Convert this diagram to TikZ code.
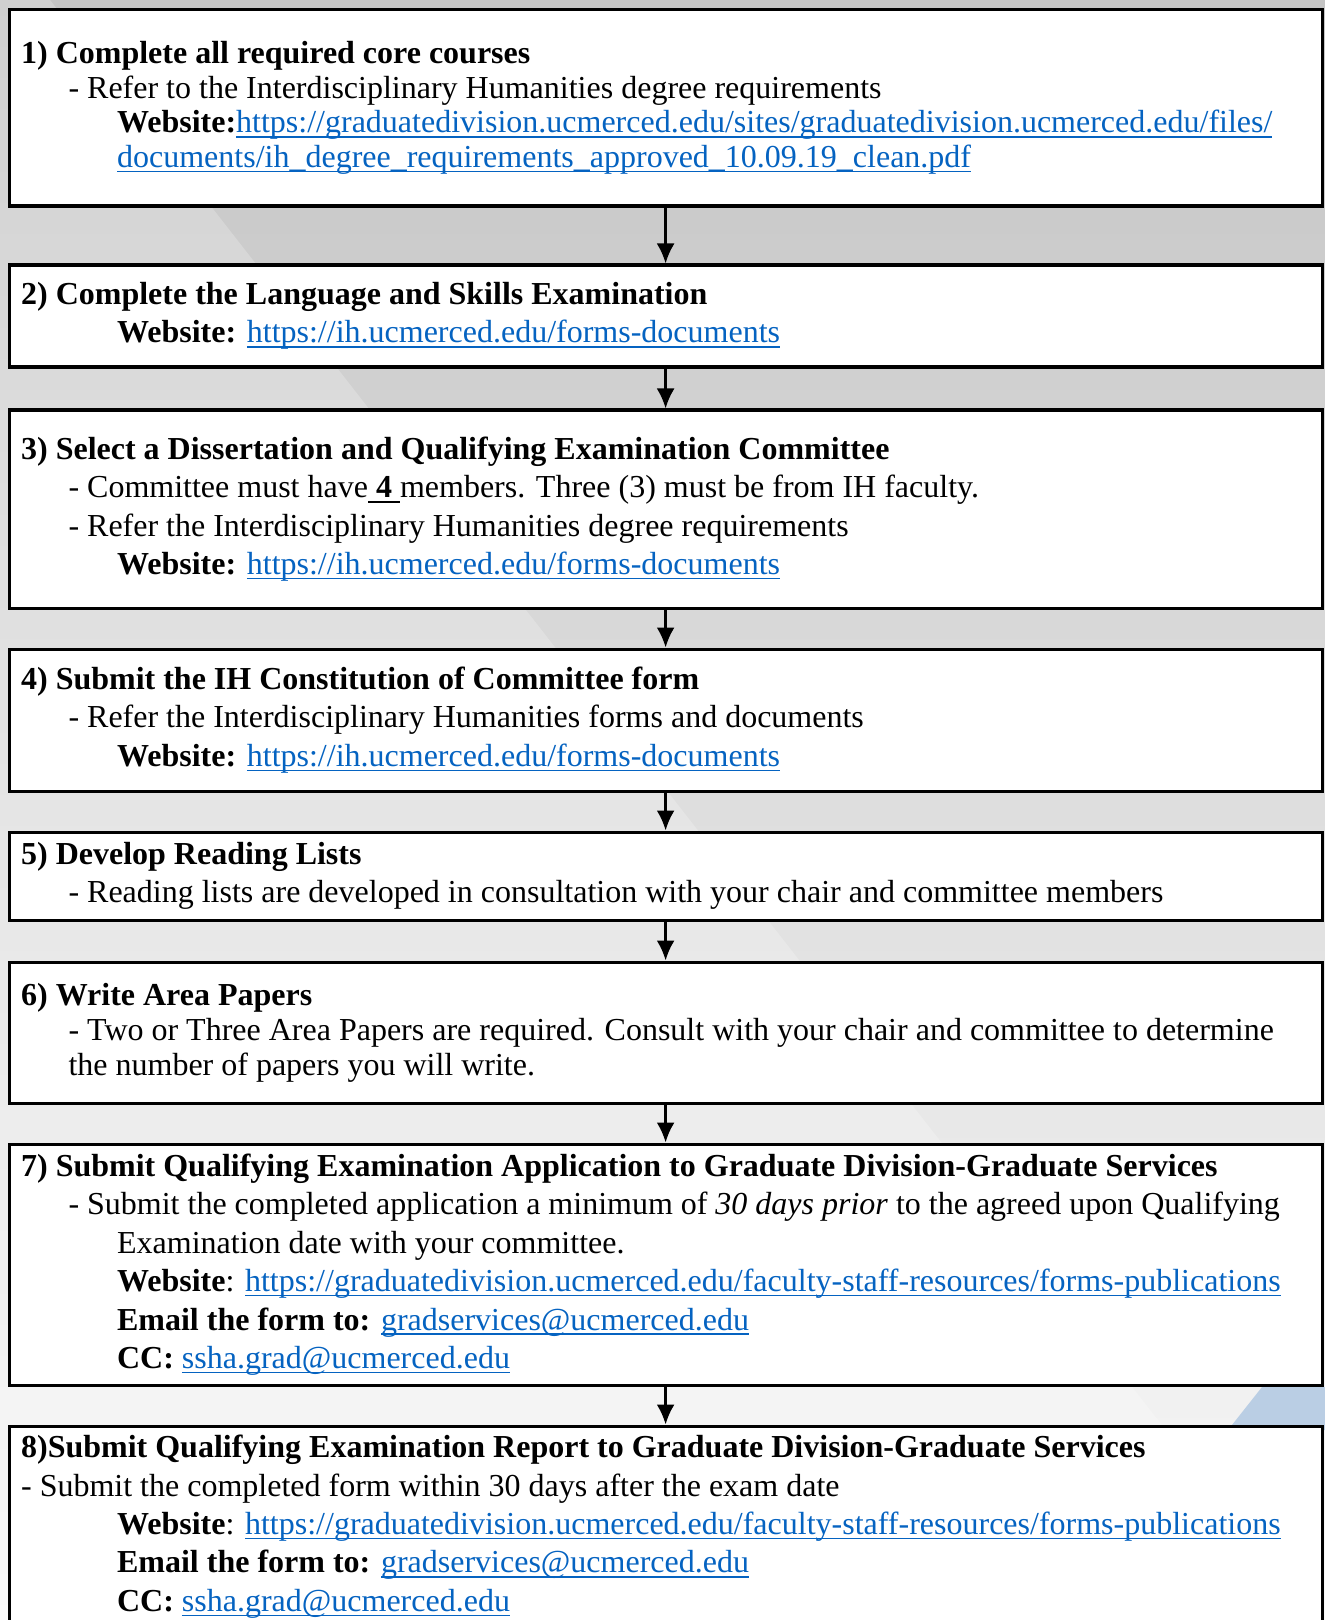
\documentclass[tikz,border=0pt]{standalone}
\usepackage{fontspec}
\setmainfont{Liberation Serif}
\usetikzlibrary{arrows.meta,positioning}
\definecolor{linkblue}{HTML}{0563C1}
\definecolor{bgtop}{HTML}{C4C4C4}
\definecolor{bgbottom}{HTML}{F8F8F8}
\definecolor{cornerblue}{RGB}{186,206,228}
\newcommand{\weblink}[1]{{\color{linkblue}\setbox0\hbox{#1}\rlap{\rule[-2.4pt]{\wd0}{0.7pt}}\box0}}
\newcommand{\ulinebox}[1]{{\setbox0\hbox{#1}\rlap{\rule[-2.4pt]{\wd0}{0.7pt}}\box0}}
\newcommand{\stepfont}{\fontsize{16pt}{19.2pt}\selectfont}
\newcommand{\stepfonttight}{\fontsize{16pt}{17.4pt}\selectfont}
\newcommand{\dashind}{\hspace*{23.7pt}}
\newcommand{\webind}{\hspace*{48pt}}

\begin{document}
\begin{tikzpicture}[x=0.5pt, y=-0.5pt, >={Latex[length=10pt,width=9pt]},
    stepbox/.style={draw, line width=1.6pt, fill=white, anchor=north west, minimum width=656.5pt, inner sep=0pt},
    steptext/.style={anchor=west, align=left, inner sep=0pt, font=\stepfont},
    tight/.style={font=\stepfonttight}]
    \useasboundingbox (0,0) rectangle (1325,1620);

    % background
    \shade[top color=bgtop, bottom color=bgbottom] (0,0) rectangle (1325,1620);
    \fill[white, opacity=0.22] (0,0) -- (50,0) -- (1314,1620) -- (0,1620) -- cycle;
    \fill[cornerblue] (1228,1430) -- (1262,1387) -- (1325,1387) -- (1325,1430) -- cycle;

    % step boxes
    \node[stepbox, minimum height=98.25pt] (s1) at (7.5,8) {};
    \node[stepbox, minimum height=51pt] (s2) at (7.5,263.5) {};
    \node[stepbox, minimum height=99pt] (s3) at (7.5,408.5) {};
    \node[stepbox, minimum height=71pt] (s4) at (7.5,647.5) {};
    \node[stepbox, minimum height=44pt] (s5) at (7.5,830.5) {};
    \node[stepbox, minimum height=70.5pt] (s6) at (7.5,960.5) {};
    \node[stepbox, minimum height=120.5pt] (s7) at (7.5,1142.5) {};
    \node[stepbox, minimum height=100.5pt] (s8) at (7.5,1424.5) {};

    % step texts
    \node[steptext, tight] (t1) at ([xshift=6.6pt]s1.west) {%
      \textbf{1) Complete all required core courses}\\
      \dashind- Refer to the Interdisciplinary Humanities degree requirements\\
      \webind\textbf{Website:}\weblink{https://graduatedivision.ucmerced.edu/sites/graduatedivision.ucmerced.edu/files/}\\
      \webind\weblink{documents/ih\_degree\_requirements\_approved\_10.09.19\_clean.pdf}};
    \node[steptext] (t2) at ([xshift=6.6pt]s2.west) {%
      \textbf{2) Complete the Language and Skills Examination}\\
      \webind\textbf{Website:} \weblink{https://ih.ucmerced.edu/forms-documents}};
    \node[steptext] (t3) at ([xshift=6.6pt]s3.west) {%
      \textbf{3) Select a Dissertation and Qualifying Examination Committee}\\
      \dashind- Committee must have\ulinebox{\textbf{ 4 }}members. Three (3) must be from IH faculty.\\
      \dashind- Refer the Interdisciplinary Humanities degree requirements\\
      \webind\textbf{Website:} \weblink{https://ih.ucmerced.edu/forms-documents}};
    \node[steptext] (t4) at ([xshift=6.6pt]s4.west) {%
      \textbf{4) Submit the IH Constitution of Committee form}\\
      \dashind- Refer the Interdisciplinary Humanities forms and documents\\
      \webind\textbf{Website:} \weblink{https://ih.ucmerced.edu/forms-documents}};
    \node[steptext] (t5) at ([xshift=6.6pt]s5.west) {%
      \textbf{5) Develop Reading Lists}\\
      \dashind- Reading lists are developed in consultation with your chair and committee members};
    \node[steptext, tight] (t6) at ([xshift=6.6pt]s6.west) {%
      \textbf{6) Write Area Papers}\\
      \dashind- Two or Three Area Papers are required. Consult with your chair and committee to determine\\
      \dashind the number of papers you will write.};
    \node[steptext] (t7) at ([xshift=6.6pt]s7.west) {%
      \textbf{7) Submit Qualifying Examination Application to Graduate Division-Graduate Services}\\
      \dashind- Submit the completed application a minimum of \textit{30 days prior} to the agreed upon Qualifying\\
      \webind Examination date with your committee.\\
      \webind\textbf{Website}: \weblink{https://graduatedivision.ucmerced.edu/faculty-staff-resources/forms-publications}\\
      \webind\textbf{Email the form to:} \weblink{gradservices@ucmerced.edu}\\
      \webind\textbf{CC:} \weblink{ssha.grad@ucmerced.edu}};
    \node[steptext] (t8) at ([xshift=6.6pt]s8.west) {%
      \textbf{8)Submit Qualifying Examination Report to Graduate Division-Graduate Services}\\
      - Submit the completed form within 30 days after the exam date\\
      \webind\textbf{Website}: \weblink{https://graduatedivision.ucmerced.edu/faculty-staff-resources/forms-publications}\\
      \webind\textbf{Email the form to:} \weblink{gradservices@ucmerced.edu}\\
      \webind\textbf{CC:} \weblink{ssha.grad@ucmerced.edu}};

    % arrows
    \foreach \a/\b in {s1/s2, s2/s3, s3/s4, s4/s5, s5/s6, s6/s7, s7/s8}
      \draw[->, line width=1.3pt] (\a.south) -- (\b.north);
\end{tikzpicture}
\end{document}
